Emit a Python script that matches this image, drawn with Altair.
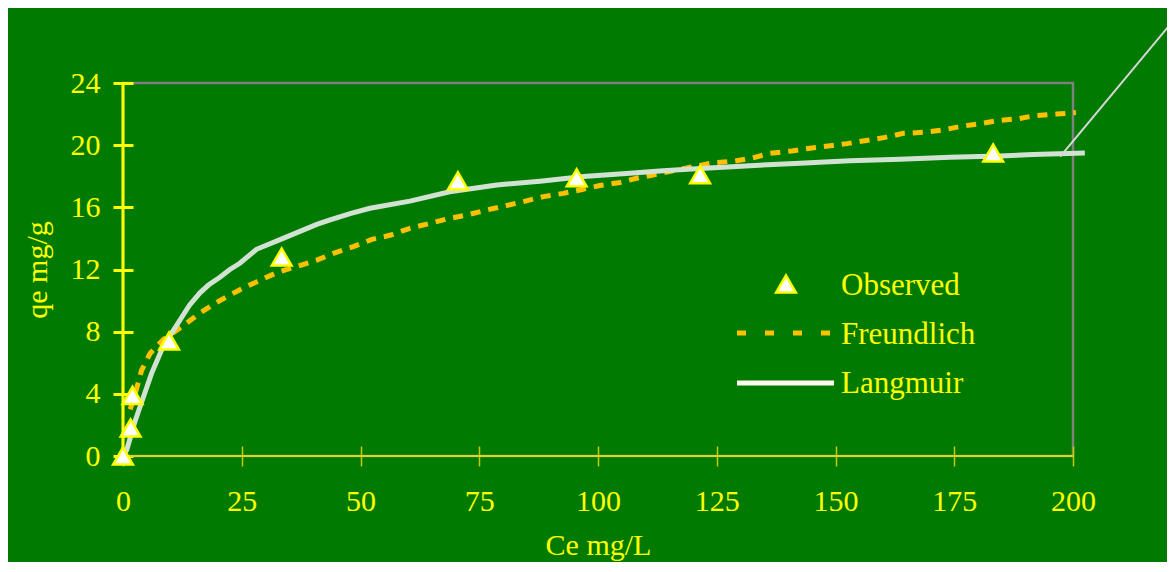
import altair as alt
import pandas as pd

# ---------------- data ----------------
series_names = ["Observed", "Freundlich", "Langmuir"]

obs_ce = [0, 1.6, 2.0, 9.7, 33.4, 70.5, 95.5, 121.5, 183.2]
obs_qe = [0, 1.8, 3.9, 7.4, 12.8, 17.7, 17.9, 18.1, 19.5]

fr_ce = [1.5, 2.2, 3.9, 5.7, 8.5, 12.3, 16.2, 20.4, 24.6, 28.1, 32.4, 36.6, 40.8,
         44.3, 48.5, 52.4, 56.2, 60.4, 64.6, 68.1, 72.3, 76.6, 80.4, 84.3, 88.5,
         92.7, 96.2, 100.4, 104.6, 108.1, 112.3, 116.5, 121.5, 124.3, 128.8,
         132.3, 136.2, 140.8, 144.6, 148.5, 152.4, 156.5, 160.4, 164.3, 168.8,
         172.7, 176.2, 180.8, 184.6, 188.5, 192.0, 196.6, 200.6]
fr_qe = [3.0, 3.6, 5.5, 6.6, 7.5, 8.3, 9.2, 10.0, 10.7, 11.2, 11.8, 12.2, 12.6,
         13.04, 13.47, 13.94, 14.2, 14.65, 14.97, 15.25, 15.5, 15.83, 16.09, 16.37,
         16.69, 16.9, 17.12, 17.4, 17.6, 17.87, 18.13, 18.4, 18.7, 18.87, 18.98,
         19.16, 19.48, 19.63, 19.8, 19.95, 20.1, 20.3, 20.5, 20.76, 20.83,
         20.98, 21.2, 21.4, 21.6, 21.7, 21.9, 22.0, 22.1]

la_ce = [0, 0.8, 2.5, 4.3, 6.0, 8.1, 10.0, 12.0, 14.0, 16.2, 18.0, 20.4, 22.5,
         24.6, 28.1, 33.7, 40.8, 43.6, 47.8, 52.0, 60.4, 68.8, 78.7, 87.8, 96.9,
         106.7, 113.7, 121.5, 132.0, 142.5, 153.0, 163.6, 174.1, 184.6, 191.6, 202.5]
la_qe = [0, 0.4, 2.2, 3.8, 5.3, 6.8, 7.8, 8.75, 9.7, 10.5, 11.0, 11.5, 12.0,
         12.4, 13.3, 14.0, 14.9, 15.19, 15.6, 15.94, 16.4, 17.0, 17.44, 17.68, 17.98,
         18.19, 18.36, 18.5, 18.68, 18.83, 19.0, 19.09, 19.22, 19.3, 19.4, 19.5]

lead_ce = [197.3, 226.0]
lead_qe = [19.26, 29.8]

axis_origin = [0]

x_ticks = [0, 25, 50, 75, 100, 125, 150, 175, 200]
y_ticks = [0, 4, 8, 12, 16, 20, 24]

# ---------------- style ----------------
BG = "#007A00"
YEL = "#FFFF00"
ORANGE = "#FFC000"
LANG = "#D2E2D2"
FONT = "Liberation Serif"

obs = pd.DataFrame({"ce": obs_ce, "qe": obs_qe})
fr = pd.DataFrame({"ce": fr_ce, "qe": fr_qe})
la = pd.DataFrame({"ce": la_ce, "qe": la_qe})
lead = pd.DataFrame({"ce": lead_ce, "qe": lead_qe})
origin = pd.DataFrame({"v": axis_origin})

xs = alt.Scale(domain=[0, 200], nice=False, zero=False)
ys = alt.Scale(domain=[0, 24], nice=False, zero=False)

x_axis = alt.Axis(values=x_ticks, title="Ce mg/L", offset=-10, tickSize=20, labelFlush=False)
y_axis = alt.Axis(values=y_ticks, title="qe mg/g", offset=-10, tickSize=20, labelFlush=False)

x_enc = alt.X("ce:Q", scale=xs, axis=x_axis)
y_enc = alt.Y("qe:Q", scale=ys, axis=y_axis)

fr_layer = alt.Chart(fr).mark_line(strokeWidth=5, strokeDash=[10, 8], color=ORANGE,
                                   clip=False).encode(x=x_enc, y=y_enc)
la_layer = alt.Chart(la).mark_line(strokeWidth=5, color=LANG, clip=False).encode(
    x=x_enc, y=y_enc)
lead_layer = alt.Chart(lead).mark_line(strokeWidth=2, color="#D8D8D8", clip=False).encode(
    x=x_enc, y=y_enc)
yrule = alt.Chart(origin).mark_rule(color=YEL, strokeWidth=3).encode(
    x=alt.X("v:Q", scale=xs, axis=x_axis))
xrule = alt.Chart(origin).mark_rule(color="#D8D820", strokeWidth=2).encode(
    y=alt.Y("v:Q", scale=ys, axis=y_axis))
pts = alt.Chart(obs).mark_point(shape="triangle-up", size=390, filled=True, fill="#FFFFFF",
                                stroke=YEL, strokeWidth=2.5, opacity=1, clip=False).encode(
    x=x_enc, y=y_enc)

# ---------------- legend (drawn) ----------------
lg_obs = pd.DataFrame({"label": [series_names[0]]})
lg_fr = pd.DataFrame({"label": [series_names[1]]})
lg_la = pd.DataFrame({"label": [series_names[2]]})

leg_sym_obs = alt.Chart(lg_obs).mark_point(shape="triangle-up", size=390, filled=True,
                                           fill="#FFFFFF", stroke=YEL, strokeWidth=2.5,
                                           opacity=1).encode(
    x=alt.value(663), y=alt.value(201))
leg_sym_fr = alt.Chart(lg_fr).mark_rule(color=ORANGE, strokeWidth=5, strokeDash=[9, 19]).encode(
    x=alt.value(614), x2=alt.value(707), y=alt.value(250))
leg_sym_la = alt.Chart(lg_la).mark_rule(color="#FFFFF0", strokeWidth=5).encode(
    x=alt.value(614), x2=alt.value(711), y=alt.value(300))

def leg_text(df, ypix):
    return alt.Chart(df).mark_text(font=FONT, fontSize=31, color=YEL, align="left",
                                   baseline="alphabetic").encode(
        x=alt.value(718), y=alt.value(ypix), text="label:N")

legend_layers = [leg_sym_obs, leg_sym_fr, leg_sym_la,
                 leg_text(lg_obs, 212), leg_text(lg_fr, 261), leg_text(lg_la, 310)]

chart = alt.layer(fr_layer, la_layer, lead_layer, xrule, yrule, pts, *legend_layers).properties(
    width=950, height=373,
    padding={"left": 115, "top": 75, "right": 94, "bottom": 106},
    autosize=alt.AutoSizeParams(type="none"),
    background=BG,
).configure_view(
    stroke="#808080", strokeWidth=2.5
).configure_axis(
    labelFont=FONT, labelFontSize=30, labelColor=YEL,
    titleFont=FONT, titleFontSize=30, titleColor=YEL, titleFontWeight="normal",
    grid=False, domain=False,
).configure_axisX(
    tickColor="#C8C800", tickWidth=1.5, labelPadding=20, titlePadding=14,
).configure_axisY(
    tickColor=YEL, tickWidth=3, labelPadding=13, titlePadding=18,
)

chart.save("out.html", embed_options={"renderer": "svg", "actions": False})
